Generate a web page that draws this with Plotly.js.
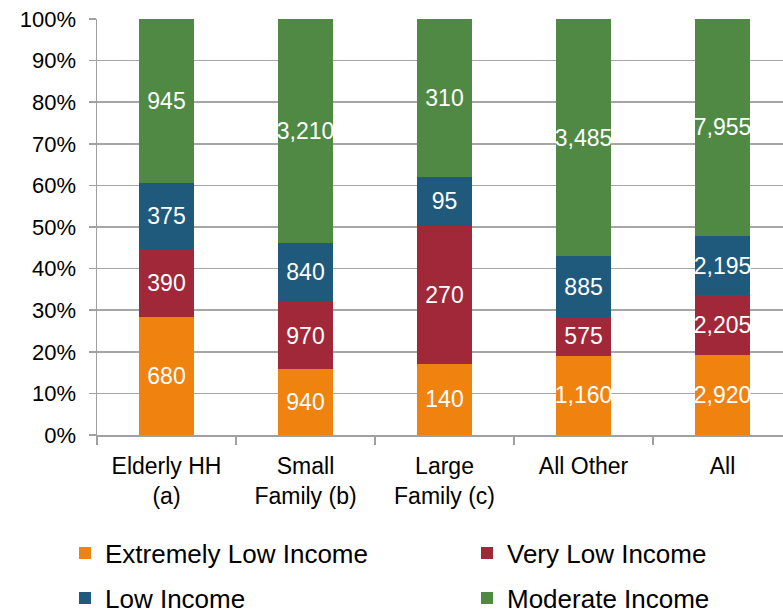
<!DOCTYPE html>
<html>
<head>
<meta charset="utf-8">
<script src="https://cdn.plot.ly/plotly-3.0.1.min.js"></script>
<style>html,body{margin:0;padding:0;background:#fff;}#chart{width:783px;height:611px;}</style>
</head>
<body>
<div id="chart"></div>
<script>
const categories = ["Elderly HH<br>(a)", "Small<br>Family (b)", "Large<br>Family (c)", "All Other", "All"];
const seriesNames = ["Extremely Low Income", "Very Low Income", "Low Income", "Moderate Income"];
const extremelyLow = [680, 940, 140, 1160, 2920];
const veryLow = [390, 970, 270, 575, 2205];
const low = [375, 840, 95, 885, 2195];
const moderate = [945, 3210, 310, 3485, 7955];
const yTickVals = [0, 10, 20, 30, 40, 50, 60, 70, 80, 90, 100];

const colors = ["#F0820F", "#A02839", "#1F5A7D", "#4F8943"];
const allSeries = [extremelyLow, veryLow, low, moderate];
const FONT = "Liberation Sans, Arial, sans-serif";
const legendIds = ["legend", "legend2", "legend3", "legend4"];

const traces = allSeries.map((vals, i) => ({
  type: "bar",
  name: seriesNames[i],
  x: categories,
  y: vals,
  marker: {color: colors[i], line: {width: 0}},
  text: vals.map(v => v.toLocaleString("en-US")),
  textposition: "inside",
  insidetextanchor: "middle",
  constraintext: "none",
  textangle: 0,
  cliponaxis: false,
  textfont: {color: "#ffffff", size: 23, family: FONT},
  hoverinfo: "none",
  legend: legendIds[i]
}));

function mkLegend(x, y) {
  return {
    orientation: "h",
    font: {size: 26, family: FONT, color: "#000"},
    xanchor: "left",
    yanchor: "middle",
    x: x,
    y: y,
    bgcolor: "rgba(0,0,0,0)",
    borderwidth: 0,
    itemclick: false
  };
}
// plot area: x 97..783 (686px), y 19..435 (416px)
const col1 = (65 - 97) / 686, col2 = (467 - 97) / 686;
const row1 = (435 - 553) / 416, row2 = (435 - 598) / 416;

const layout = {
  width: 783,
  height: 611,
  margin: {l: 97, r: 0, t: 19, b: 176, autoexpand: false},
  paper_bgcolor: "#fff",
  plot_bgcolor: "#fff",
  barmode: "stack",
  barnorm: "percent",
  bargap: 0.6,
  showlegend: true,
  font: {family: FONT, color: "#000"},
  xaxis: {
    type: "category",
    range: [-0.5, 4.435],
    showgrid: false,
    showline: true,
    linecolor: "#A0A0A0",
    linewidth: 1.5,
    ticks: "outside",
    tickson: "boundaries",
    ticklen: 8,
    tickcolor: "#A0A0A0",
    tickwidth: 1.5,
    tickfont: {size: 23, family: FONT, color: "#000"},
    ticklabelstandoff: 10,
    automargin: false,
    fixedrange: true
  },
  yaxis: {
    range: [0, 100],
    tickvals: yTickVals,
    ticktext: yTickVals.map(v => v + "%"),
    showgrid: true,
    gridcolor: "#A6A6A6",
    gridwidth: 1.5,
    zeroline: false,
    showline: true,
    linecolor: "#A0A0A0",
    linewidth: 1.5,
    ticks: "outside",
    ticklen: 7,
    tickcolor: "#A0A0A0",
    tickwidth: 1.5,
    tickfont: {size: 22, family: FONT, color: "#000"},
    ticklabelstandoff: 8,
    automargin: false,
    fixedrange: true
  },
  legend: mkLegend(col1, row1),
  legend2: mkLegend(col2, row1),
  legend3: mkLegend(col1, row2),
  legend4: mkLegend(col2, row2)
};

Plotly.newPlot("chart", traces, layout, {displayModeBar: false, staticPlot: true});
</script>
</body>
</html>
